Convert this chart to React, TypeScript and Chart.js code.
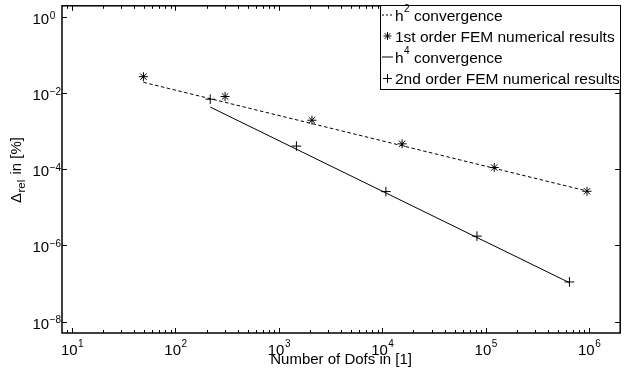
import React, { useEffect, useRef } from 'react';
import { Chart, registerables } from 'chart.js';

Chart.register(...registerables);

// ---- data ----
const firstOrderDofs = [49, 302, 2090, 15560, 121000, 955000];
const firstOrderErr = [2.74e-2, 8.25e-3, 1.96e-3, 4.7e-4, 1.12e-4, 2.66e-5];
const secondOrderDofs = [217, 1479, 10840, 82400, 646000];
const secondOrderErr = [7.0e-3, 4.1e-4, 2.61e-5, 1.76e-6, 1.1e-7];
const h2Dofs = [49, 955000];
const h2Err = [1.95e-2, 2.7e-5];
const h4Dofs = [217, 646000];
const h4Err = [4.35e-3, 1.05e-7];

const xTickExponents = [1, 2, 3, 4, 5, 6];
const yTickExponents = [0, -2, -4, -6, -8];
const xLimits = [8, 2e6];
const yLimits = [5e-9, 2];

const seriesLabels = [
  'h^2 convergence',
  '1st order FEM numerical results',
  'h^4 convergence',
  '2nd order FEM numerical results',
];
const xTitle = 'Number of Dofs in [1]';

const FONT = '"Liberation Sans", Arial, Helvetica, sans-serif';
const MAIN = 15;
const SUP = 10;
const LEG = 15.5;

function toPts(xs: number[], ys: number[]) {
  return xs.map((x, i) => ({ x, y: ys[i] }));
}

function line(ctx: CanvasRenderingContext2D, x1: number, y1: number, x2: number, y2: number) {
  ctx.beginPath();
  ctx.moveTo(x1, y1);
  ctx.lineTo(x2, y2);
  ctx.stroke();
}

function drawPlus(ctx: CanvasRenderingContext2D, x: number, y: number, r: number) {
  line(ctx, x - r, y, x + r, y);
  line(ctx, x, y - r, x, y + r);
}

function drawStar(ctx: CanvasRenderingContext2D, x: number, y: number, r: number) {
  drawPlus(ctx, x, y, r);
  const d = r * Math.SQRT1_2;
  line(ctx, x - d, y - d, x + d, y + d);
  line(ctx, x - d, y + d, x + d, y - d);
}

function splitSup(label: string) {
  const i = label.indexOf('^');
  if (i < 0) return { base: label, sup: '', rest: '' };
  return { base: label.slice(0, i), sup: label.slice(i + 1, i + 2), rest: label.slice(i + 2) };
}

function tenPower(e: number) {
  return e < 0 ? '\u2212' + String(-e) : String(e);
}

const decorPlugin = {
  id: 'decor',
  afterDatasetsDraw(chart: any) {
    const ctx: CanvasRenderingContext2D = chart.ctx;
    const { left, top, right, bottom } = chart.chartArea;
    const xs = chart.scales.x;
    const ys = chart.scales.y;
    ctx.save();
    ctx.strokeStyle = '#000';
    ctx.fillStyle = '#000';

    // inward ticks
    ctx.lineWidth = 1;
    for (let e = 0; e <= 6; e++) {
      for (let m = 1; m <= 9; m++) {
        const v = m * Math.pow(10, e);
        if (v <= xLimits[0] || v >= xLimits[1]) continue;
        const px = Math.round(xs.getPixelForValue(v)) + 0.5;
        const len = m === 1 ? 5 : 3;
        line(ctx, px, bottom, px, bottom - len);
        line(ctx, px, top, px, top + len);
      }
    }
    for (const e of yTickExponents) {
      const py = Math.round(ys.getPixelForValue(Math.pow(10, e))) + 0.5;
      line(ctx, left, py, left + 5, py);
      line(ctx, right, py, right - 5, py);
    }

    // axes box
    ctx.lineWidth = 1.5;
    ctx.strokeRect(left, top, right - left, bottom - top);

    // x tick labels
    ctx.textBaseline = 'alphabetic';
    ctx.textAlign = 'left';
    for (const e of xTickExponents) {
      const px = xs.getPixelForValue(Math.pow(10, e));
      ctx.font = `${MAIN}px ${FONT}`;
      const w1 = ctx.measureText('10').width;
      ctx.font = `${SUP}px ${FONT}`;
      const ex = tenPower(e);
      const w2 = ctx.measureText(ex).width;
      const x0 = px - (w1 + w2) / 2;
      ctx.font = `${MAIN}px ${FONT}`;
      ctx.fillText('10', x0, 355);
      ctx.font = `${SUP}px ${FONT}`;
      ctx.fillText(ex, x0 + w1 + 0.5, 347);
    }

    // y tick labels (left aligned like the reference)
    for (const e of yTickExponents) {
      const py = ys.getPixelForValue(Math.pow(10, e));
      ctx.font = `${MAIN}px ${FONT}`;
      const w1 = ctx.measureText('10').width;
      ctx.fillText('10', 32.5, py + 7);
      ctx.font = `${SUP}px ${FONT}`;
      ctx.fillText(tenPower(e), 32.5 + w1 + 0.5, py + 1.5);
    }

    // x title
    ctx.font = `${MAIN}px ${FONT}`;
    ctx.textAlign = 'center';
    ctx.fillText(xTitle, (left + right) / 2, 364);

    // y title (rotated): Δ_rel in [%]
    ctx.textAlign = 'left';
    ctx.save();
    const SUB = 11.5;
    ctx.font = `${MAIN}px ${FONT}`;
    const wd = ctx.measureText('\u0394').width;
    ctx.font = `${SUB}px ${FONT}`;
    const ws = ctx.measureText('rel').width;
    ctx.translate(20.5, 203);
    ctx.rotate(-Math.PI / 2);
    ctx.font = `${MAIN}px ${FONT}`;
    ctx.fillText('\u0394', 0, 0);
    ctx.font = `${SUB}px ${FONT}`;
    ctx.fillText('rel', wd + 0.5, 4);
    ctx.font = `${MAIN}px ${FONT}`;
    ctx.fillText(' in [%]', wd + ws + 1.5, 0);
    ctx.restore();

    // legend
    const bx = 380.5, by = 5.5, bw = 240, bh = 84;
    ctx.fillStyle = '#fff';
    ctx.fillRect(bx, by, bw, bh);
    ctx.lineWidth = 1;
    ctx.strokeStyle = '#000';
    ctx.strokeRect(bx, by, bw, bh);
    ctx.fillStyle = '#000';

    const datasets = chart.data.datasets;
    const rows = [
      { kind: 'dash', sampleY: 15, textX: 395, baseY: 20.5 },
      { kind: 'star', sampleY: 36, textX: 395, baseY: 41.5 },
      { kind: 'solid', sampleY: 57, textX: 395, baseY: 62.5 },
      { kind: 'plus', sampleY: 78.5, textX: 395, baseY: 84 },
    ];
    rows.forEach((r, i) => {
      const label: string = datasets[i].label;
      ctx.lineWidth = 1;
      if (r.kind === 'dash') {
        ctx.setLineDash([2, 2]);
        line(ctx, 382, r.sampleY, 393, r.sampleY);
        ctx.setLineDash([]);
      } else if (r.kind === 'solid') {
        line(ctx, 382, r.sampleY, 393, r.sampleY);
      } else if (r.kind === 'star') {
        drawStar(ctx, 387.5, r.sampleY, 4);
      } else {
        drawPlus(ctx, 387.5, r.sampleY, 4.5);
      }
      const p = splitSup(label);
      ctx.font = `${LEG}px ${FONT}`;
      ctx.fillText(p.base, r.textX, r.baseY);
      let x = r.textX + ctx.measureText(p.base).width;
      if (p.sup) {
        ctx.font = `${SUP}px ${FONT}`;
        ctx.fillText(p.sup, x + 0.5, r.baseY - 8.5);
        x += ctx.measureText(p.sup).width + 0.5;
        ctx.font = `${LEG}px ${FONT}`;
      }
      ctx.fillText(p.rest, x, r.baseY);
    });

    ctx.restore();
  },
};

export default function App() {
  const ref = useRef<HTMLCanvasElement | null>(null);

  useEffect(() => {
    document.body.style.margin = '0';
    const canvas = ref.current;
    if (!canvas) return;
    const chart = new Chart(canvas, {
      type: 'scatter',
      data: {
        datasets: [
          {
            label: seriesLabels[0],
            data: toPts(h2Dofs, h2Err),
            showLine: true,
            borderColor: '#000',
            borderWidth: 1,
            borderDash: [3.5, 2.5],
            pointRadius: 0,
            fill: false,
          },
          {
            label: seriesLabels[1],
            data: toPts(firstOrderDofs, firstOrderErr),
            showLine: false,
            pointStyle: 'star',
            pointRadius: 4.5,
            pointBorderColor: '#000',
            pointBorderWidth: 1,
            borderColor: '#000',
            backgroundColor: '#000',
          },
          {
            label: seriesLabels[2],
            data: toPts(h4Dofs, h4Err),
            showLine: true,
            borderColor: '#000',
            borderWidth: 1,
            pointRadius: 0,
            fill: false,
          },
          {
            label: seriesLabels[3],
            data: toPts(secondOrderDofs, secondOrderErr),
            showLine: false,
            pointStyle: 'cross',
            pointRadius: 4.8,
            pointBorderColor: '#000',
            pointBorderWidth: 1,
            borderColor: '#000',
            backgroundColor: '#000',
          },
        ],
      },
      options: {
        responsive: false,
        animation: false,
        devicePixelRatio: 1,
        layout: { padding: { left: 62, top: 4, right: 3, bottom: 42 } },
        plugins: {
          legend: { display: false },
          tooltip: { enabled: false },
        },
        scales: {
          x: {
            type: 'logarithmic',
            display: false,
            min: xLimits[0],
            max: xLimits[1],
            bounds: 'data',
          },
          y: {
            type: 'logarithmic',
            display: false,
            min: yLimits[0],
            max: yLimits[1],
            bounds: 'data',
          },
        },
      },
      plugins: [decorPlugin],
    } as any);
    return () => chart.destroy();
  }, []);

  return (
    <div style={{ width: 626, height: 375, background: '#fff' }}>
      <canvas ref={ref} width={626} height={375} style={{ display: 'block' }} />
    </div>
  );
}
